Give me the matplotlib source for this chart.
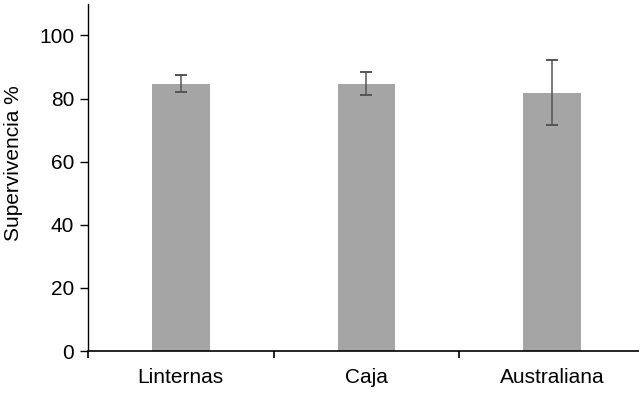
import matplotlib
matplotlib.use('Agg')
import matplotlib.pyplot as plt

# Data
categories = ['Linternas', 'Caja', 'Australiana']
survival = [84.7, 84.7, 81.9]
errors = [2.7, 3.7, 10.2]

plt.rcParams['font.family'] = ['Liberation Sans', 'DejaVu Sans']

fig = plt.figure(figsize=(6.39, 3.94), dpi=100)
ax = fig.add_axes([0.1377, 0.109, 0.8623, 0.881])

x = range(len(categories))
ax.bar(x, survival, width=0.31, color='#a5a5a5',
       yerr=errors, capsize=4.5,
       error_kw=dict(ecolor='#555555', elinewidth=1.1, capthick=1.4))

ax.set_xlim(-0.5, 2.47)
ax.set_ylim(0, 110)
ax.set_yticks([0, 20, 40, 60, 80, 100])
ax.set_xticks(list(x))
ax.set_xticklabels(categories, fontsize=15)
ax.set_xticks([-0.5, 0.5, 1.5], minor=True)
ax.tick_params(axis='x', which='major', length=0, pad=12)
ax.tick_params(axis='x', which='minor', length=5, width=1.2, direction='out')
ax.tick_params(axis='y', labelsize=15, length=6, width=1, direction='out', pad=4)
ax.set_ylabel('Supervivencia %', fontsize=15)
ax.yaxis.set_label_coords(-0.118, 0.54)

for side in ['top', 'right']:
    ax.spines[side].set_visible(False)
ax.spines['left'].set_linewidth(1)
ax.spines['bottom'].set_linewidth(1.2)

fig.savefig('out.png', dpi=100)
